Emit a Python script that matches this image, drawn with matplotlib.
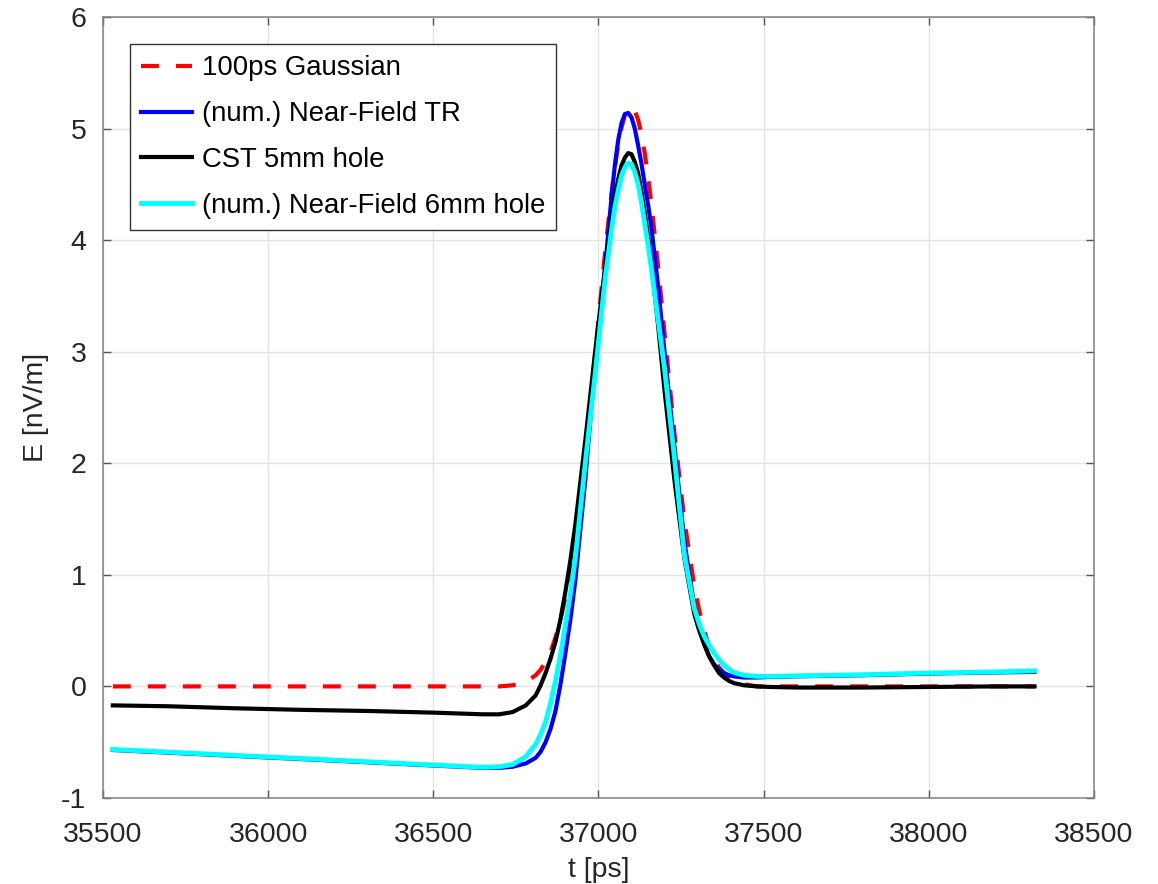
import matplotlib.pyplot as plt

plt.rcParams['font.family'] = ['Liberation Sans', 'DejaVu Sans']
plt.rcParams['axes.unicode_minus'] = False

# time axis [ps], shared by all four traces
t_ps = [35530, 35700, 35900, 36100, 36300, 36500, 36600, 36650, 36700, 36740,
        36780, 36810, 36825, 36840, 36855, 36870, 36885, 36900, 36915, 36930,
        36960, 36990, 37020, 37040, 37050, 37060, 37070, 37080, 37090, 37100,
        37110, 37120, 37130, 37140, 37150, 37160, 37180, 37200, 37230, 37260,
        37290, 37305, 37320, 37335, 37350, 37365, 37380, 37395, 37410, 37440,
        37480, 37520, 37600, 37800, 38000, 38200, 38320]

# E [nV/m]
gauss_100ps = [0.0, 0.0, 0.0, 0.0, 0.0, 0.0, 0.0, 0.0, 0.0, 0.01,
               0.04, 0.10, 0.15, 0.22, 0.31, 0.44, 0.60, 0.80, 1.05, 1.36,
               2.10, 2.98, 3.89, 4.43, 4.66, 4.86, 5.01, 5.12, 5.18, 5.20,
               5.16, 5.08, 4.95, 4.78, 4.57, 4.33, 3.78, 3.17, 2.27, 1.49,
               0.90, 0.68, 0.50, 0.36, 0.25, 0.17, 0.12, 0.08, 0.05, 0.02,
               0.0, 0.0, 0.0, 0.0, 0.0, 0.0, 0.0]

nf_tr = [-0.570, -0.594, -0.623, -0.651, -0.680, -0.709, -0.723, -0.730, -0.730, -0.720,
         -0.690, -0.640, -0.585, -0.500, -0.380, -0.220, 0.020, 0.300, 0.600, 0.950,
         1.850, 2.900, 3.750, 4.400, 4.680, 4.900, 5.050, 5.130, 5.140, 5.100,
         5.000, 4.850, 4.690, 4.500, 4.320, 4.120, 3.600, 3.000, 2.150, 1.300,
         0.720, 0.520, 0.380, 0.270, 0.200, 0.150, 0.120, 0.100, 0.090, 0.080,
         0.080, 0.085, 0.090, 0.100, 0.115, 0.125, 0.130]

cst_5mm = [-0.170, -0.178, -0.196, -0.210, -0.220, -0.235, -0.245, -0.250, -0.250, -0.230,
           -0.170, -0.080, 0.010, 0.120, 0.250, 0.400, 0.600, 0.850, 1.130, 1.450,
           2.200, 3.000, 3.750, 4.200, 4.400, 4.550, 4.670, 4.740, 4.780, 4.770,
           4.700, 4.600, 4.440, 4.250, 4.040, 3.800, 3.250, 2.650, 1.850, 1.150,
           0.650, 0.500, 0.380, 0.270, 0.190, 0.120, 0.080, 0.050, 0.030, 0.010,
           0.000, -0.005, -0.010, -0.010, -0.005, 0.000, 0.000]

nf_6mm = [-0.565, -0.589, -0.618, -0.646, -0.675, -0.704, -0.718, -0.725, -0.720, -0.700,
          -0.630, -0.520, -0.430, -0.320, -0.150, 0.050, 0.280, 0.550, 0.830, 1.150,
          2.000, 2.800, 3.650, 4.100, 4.300, 4.450, 4.580, 4.650, 4.690, 4.680,
          4.610, 4.500, 4.340, 4.150, 3.960, 3.750, 3.300, 2.850, 2.050, 1.180,
          0.700, 0.560, 0.450, 0.370, 0.300, 0.240, 0.190, 0.155, 0.125, 0.100,
          0.090, 0.090, 0.095, 0.105, 0.120, 0.130, 0.140]

fig = plt.figure(figsize=(11.58, 8.84), dpi=100)
ax = fig.add_axes([0.0889, 0.0973, 0.8558, 0.8835])

ax.plot(t_ps, gauss_100ps, color='red', lw=3, linestyle=(0, (4.3, 4.1)),
        label='100ps Gaussian')
ax.plot(t_ps, nf_tr, color='blue', lw=3, label='(num.) Near-Field TR')
ax.plot(t_ps, cst_5mm, color='black', lw=3, label='CST 5mm hole')
ax.plot(t_ps, nf_6mm, color='cyan', lw=3.5, label='(num.) Near-Field 6mm hole')

ax.set_xlim(35500, 38500)
ax.set_ylim(-1, 6)
ax.set_xticks(range(35500, 38501, 500))
ax.set_yticks(range(-1, 7))
ax.grid(True, color='#e3e3e3', lw=1)
ax.set_axisbelow(True)

for s in ax.spines.values():
    s.set_color('#808080')
    s.set_linewidth(1.1)
ax.tick_params(direction='in', length=6, width=1, color='#555555',
               top=True, right=True, labelsize=20.5, labelcolor='#262626')
ax.tick_params(axis='x', pad=17)
ax.tick_params(axis='y', pad=12)

ax.set_xlabel('t [ps]', fontsize=20.5, color='#262626', labelpad=7)
ax.set_ylabel('E [nV/m]', fontsize=20.5, color='#262626', labelpad=9)

leg = ax.legend(loc='upper left', fontsize=19.8, handlelength=1.85,
                handletextpad=0.35, labelspacing=0.72, borderpad=0.4,
                borderaxespad=1.0, fancybox=False, framealpha=1)
leg.get_frame().set_edgecolor('#333333')
leg.get_frame().set_linewidth(1)

plt.savefig('out.png', dpi=100)
